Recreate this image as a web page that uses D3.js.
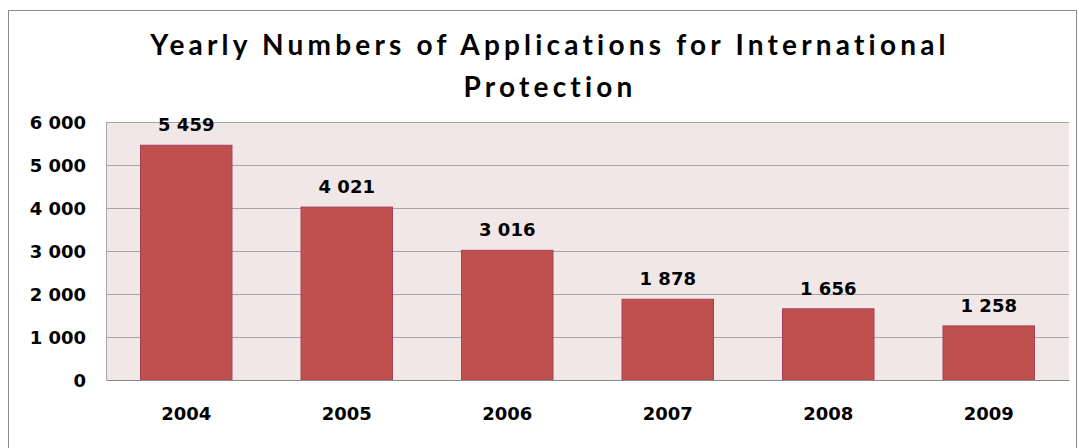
<!DOCTYPE html>
<html><head><meta charset="utf-8">
<script src="https://cdn.jsdelivr.net/npm/d3@7"></script>
<style>body{margin:0;background:#fff}svg text{font-family:"DejaVu Sans",sans-serif;font-weight:bold;fill:#000}</style>
</head><body>
<svg id="c" width="1079" height="448"></svg>
<script>
const years = ["2004","2005","2006","2007","2008","2009"];
const applications = [5459, 4021, 3016, 1878, 1656, 1258];
const yTicks = [0,1000,2000,3000,4000,5000,6000];
const titleLines = ["Yearly Numbers of Applications for International","Protection"];

const svg = d3.select("#c");
svg.append("rect").attr("x",8.5).attr("y",10.5).attr("width",1068).attr("height",445)
  .attr("fill","#fff").attr("stroke","#8c8c8c").attr("stroke-width",1);

const m = {left:106, right:1069, top:122, bottom:380};
const x = d3.scaleBand().domain(years).range([m.left,m.right]).paddingInner(0.43).paddingOuter(0.215);
const y = d3.scaleLinear().domain([0,6000]).range([m.bottom,m.top]);

svg.append("rect").attr("x",m.left).attr("y",m.top).attr("width",m.right-m.left).attr("height",m.bottom-m.top).attr("fill","#F2E7E7");

const fmt = v => d3.format(",")(v).replace(/,/g," ");
const FS = 18;

// grid
svg.append("g").selectAll("line").data(yTicks.filter(d=>d>0)).join("line")
  .attr("x1",m.left).attr("x2",m.right).attr("y1",d=>Math.round(y(d))+0.5).attr("y2",d=>Math.round(y(d))+0.5)
  .attr("stroke","#A6A6A6").attr("stroke-width",1);

// y axis
const ya = svg.append("g").attr("transform",`translate(${m.left},0)`)
  .call(d3.axisLeft(y).tickValues(yTicks).tickFormat(fmt).tickSize(0).tickPadding(20));
ya.select(".domain").attr("stroke","#A6A6A6");
ya.selectAll("text").attr("font-size",FS).attr("dy","0.35em");

// bars
svg.append("g").selectAll("rect").data(applications).join("rect")
  .attr("x",(d,i)=>x(years[i])).attr("width",x.bandwidth())
  .attr("y",d=>y(d)).attr("height",d=>y(0)-y(d))
  .attr("fill","#C0504D").attr("stroke","#A8405A").attr("stroke-width",1);

// x axis
const xa = svg.append("g").attr("transform",`translate(0,${m.bottom})`)
  .call(d3.axisBottom(x).tickSize(0).tickPadding(27));
xa.select(".domain").attr("stroke","#8c8c8c");
xa.selectAll("text").attr("font-size",FS);

// value labels
svg.append("g").selectAll("text").data(applications).join("text")
  .attr("x",(d,i)=>x(years[i])+x.bandwidth()/2).attr("y",d=>y(d)-14)
  .attr("text-anchor","middle").attr("font-size",FS).text(fmt);

// title
svg.append("g").selectAll("text").data(titleLines).join("text")
  .attr("x",550).attr("y",(d,i)=>55+i*42).attr("text-anchor","middle")
  .style("font-family","Lato,'Open Sans',sans-serif")
  .attr("font-size",28).attr("letter-spacing",4.2).text(d=>d);
</script>
</body></html>
